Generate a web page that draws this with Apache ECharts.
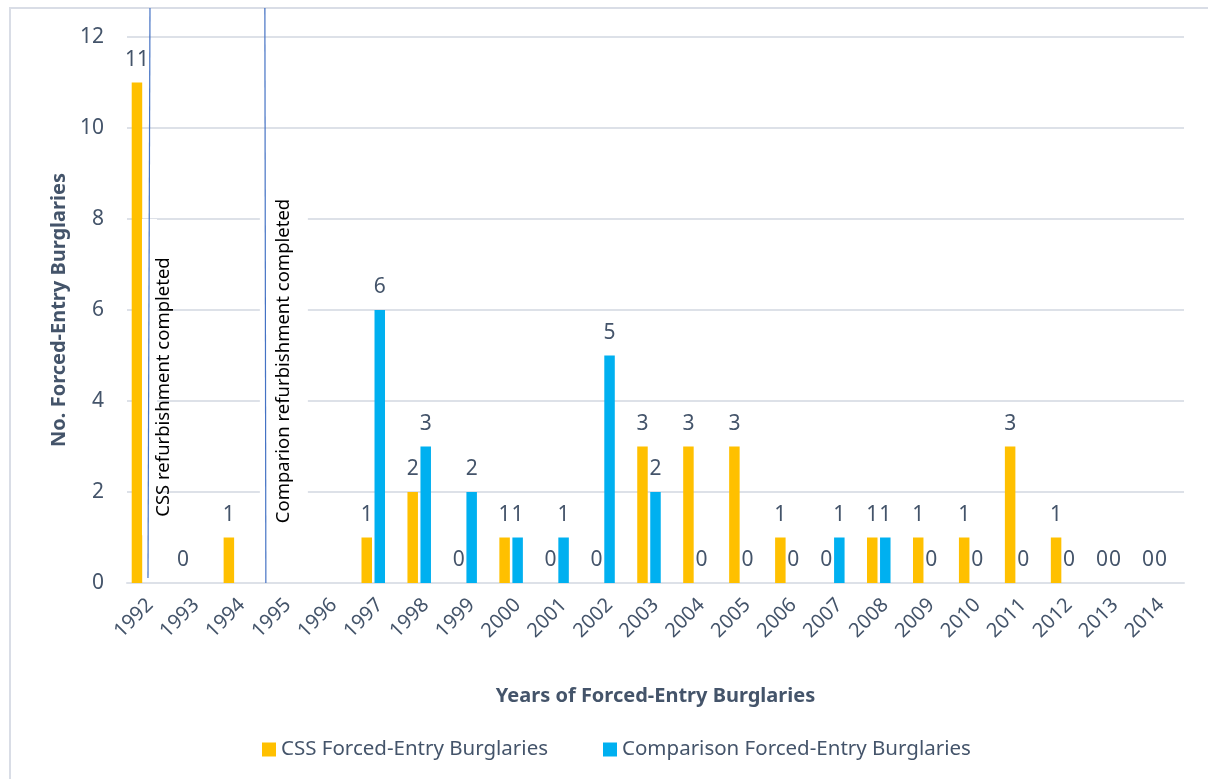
<!DOCTYPE html>
<html>
<head>
<meta charset="utf-8">
<title>Forced-Entry Burglaries</title>
<script src="https://cdn.jsdelivr.net/npm/echarts@6/dist/echarts.min.js"></script>
<style>
  html, body { margin: 0; padding: 0; background: #fff; }
  #main { width: 1208px; height: 779px; }
</style>
</head>
<body>
<div id="main"></div>
<script>
// years on the x axis
var years = ['1992', '1993', '1994', '1995', '1996', '1997', '1998', '1999', '2000', '2001', '2002',
  '2003', '2004', '2005', '2006', '2007', '2008', '2009', '2010', '2011', '2012', '2013', '2014'];
// CSS forced-entry burglaries (null = no bar / no label)
var cssValues = [11, 0, 1, null, null, 1, 2, 0, 1, 0, 0, 3, 3, 3, 1, 0, 1, 1, 1, 3, 1, 0, 0];
// comparison forced-entry burglaries
var compValues = [null, null, null, null, null, 6, 3, 2, 1, 1, 5, 2, 0, 0, 0, 1, 1, 0, 0, 0, 0, 0, 0];
var yTicks = [0, 2, 4, 6, 8, 10, 12];

var textColor = '#44546A';
var gridColor = '#DDE1E8';
var fontFamily = '"Noto Sans", sans-serif';

var chart = echarts.init(document.getElementById('main'));

var labelStyle = {
  show: true,
  position: 'top',
  distance: 12,
  color: textColor,
  fontSize: 21,
  fontFamily: fontFamily
};

var option = {
  animation: false,
  textStyle: { fontFamily: fontFamily },
  grid: { left: 127, right: 24, top: 37, bottom: 196 },
  legend: {
    data: ['CSS Forced-Entry Burglaries', 'Comparison Forced-Entry Burglaries'],
    left: 257,
    top: 734,
    icon: 'rect',
    itemWidth: 14,
    itemHeight: 14,
    itemGap: 55,
    textStyle: { color: textColor, fontSize: 20.5, fontFamily: fontFamily }
  },
  xAxis: {
    type: 'category',
    data: years,
    name: 'Years of Forced-Entry Burglaries',
    nameLocation: 'middle',
    nameGap: 103,
    nameTextStyle: { color: textColor, fontSize: 20, fontWeight: 'bold', fontFamily: fontFamily },
    axisLine: { lineStyle: { color: gridColor, width: 2 } },
    axisTick: { show: false },
    axisLabel: { rotate: 45, margin: 19, color: textColor, fontSize: 20, fontFamily: fontFamily, interval: 0 }
  },
  yAxis: {
    type: 'value',
    min: yTicks[0],
    max: yTicks[yTicks.length - 1],
    interval: 2,
    name: 'No. Forced-Entry Burglaries',
    nameLocation: 'middle',
    nameGap: 56,
    nameRotate: 90,
    nameTextStyle: { color: textColor, fontSize: 20, fontWeight: 'bold', fontFamily: fontFamily },
    axisLine: { show: false },
    axisTick: { show: false },
    axisLabel: { margin: 23, color: textColor, fontSize: 21, fontFamily: fontFamily },
    splitLine: { lineStyle: { color: gridColor, width: 2 } }
  },
  series: [
    {
      name: 'CSS Forced-Entry Burglaries',
      type: 'bar',
      data: cssValues,
      barWidth: 10.5,
      barGap: '24%',
      itemStyle: { color: '#FFC000' },
      label: labelStyle
    },
    {
      name: 'Comparison Forced-Entry Burglaries',
      type: 'bar',
      data: compValues,
      barWidth: 10.5,
      barGap: '24%',
      itemStyle: { color: '#00B0F0' },
      label: labelStyle
    },
    {
      // empty third slot, keeps the bars shifted left like the original
      name: 'spacer',
      type: 'bar',
      data: years.map(function () { return null; }),
      barWidth: 10.5,
      barGap: '24%'
    }
  ]
};

chart.setOption(option);

// annotation lines and texts, placed from the axes
function px(idx, val) {
  return chart.convertToPixel({ xAxisIndex: 0, yAxisIndex: 0 }, [idx, val]);
}
var c0 = px(0, 0);
var c2 = px(2, 0);
var c3 = px(3, 0);
var x1 = c0[0];
var x2 = (c2[0] + c3[0]) / 2;
var yBase = c0[1];
var y8 = px(0, 8)[1];
var y1 = px(0, 1.05)[1];
var y9 = px(0, 9.5)[1];
var y01 = px(0, 0.1)[1];

chart.setOption({
  graphic: [
    {
      type: 'rect', z: 0, silent: true,
      shape: { x: 10, y: 8, width: 1400, height: 1000 },
      style: { fill: 'none', stroke: '#D9DDE6', lineWidth: 2 }
    },
    {
      type: 'rect', z: 50, silent: true,
      shape: { x: x1 - 8, y: y8, width: 15, height: y1 - y8 },
      style: { fill: '#fff' }
    },
    {
      type: 'rect', z: 50, silent: true,
      shape: { x: x2 - 5, y: y9, width: 48, height: y01 - y9 },
      style: { fill: '#fff' }
    },
    {
      type: 'line', z: 60, silent: true,
      shape: { x1: x1, y1: 8, x2: x1 - 2, y2: yBase - 5 },
      style: { stroke: '#4472C4', lineWidth: 1.2 }
    },
    {
      type: 'line', z: 60, silent: true,
      shape: { x1: x2, y1: 8, x2: x2 + 1, y2: yBase },
      style: { stroke: '#4472C4', lineWidth: 1.2 }
    },
    {
      type: 'text', z: 60, silent: true,
      x: x1 + 14, y: 387, rotation: Math.PI / 2,
      style: {
        text: 'CSS refurbishment completed',
        fill: '#000', fontSize: 18.5, fontFamily: fontFamily,
        align: 'center', verticalAlign: 'middle'
      }
    },
    {
      type: 'text', z: 60, silent: true,
      x: x2 + 19, y: 361, rotation: Math.PI / 2,
      style: {
        text: 'Comparion refurbishment completed',
        fill: '#000', fontSize: 18.5, fontFamily: fontFamily,
        align: 'center', verticalAlign: 'middle'
      }
    }
  ]
});
</script>
</body>
</html>
